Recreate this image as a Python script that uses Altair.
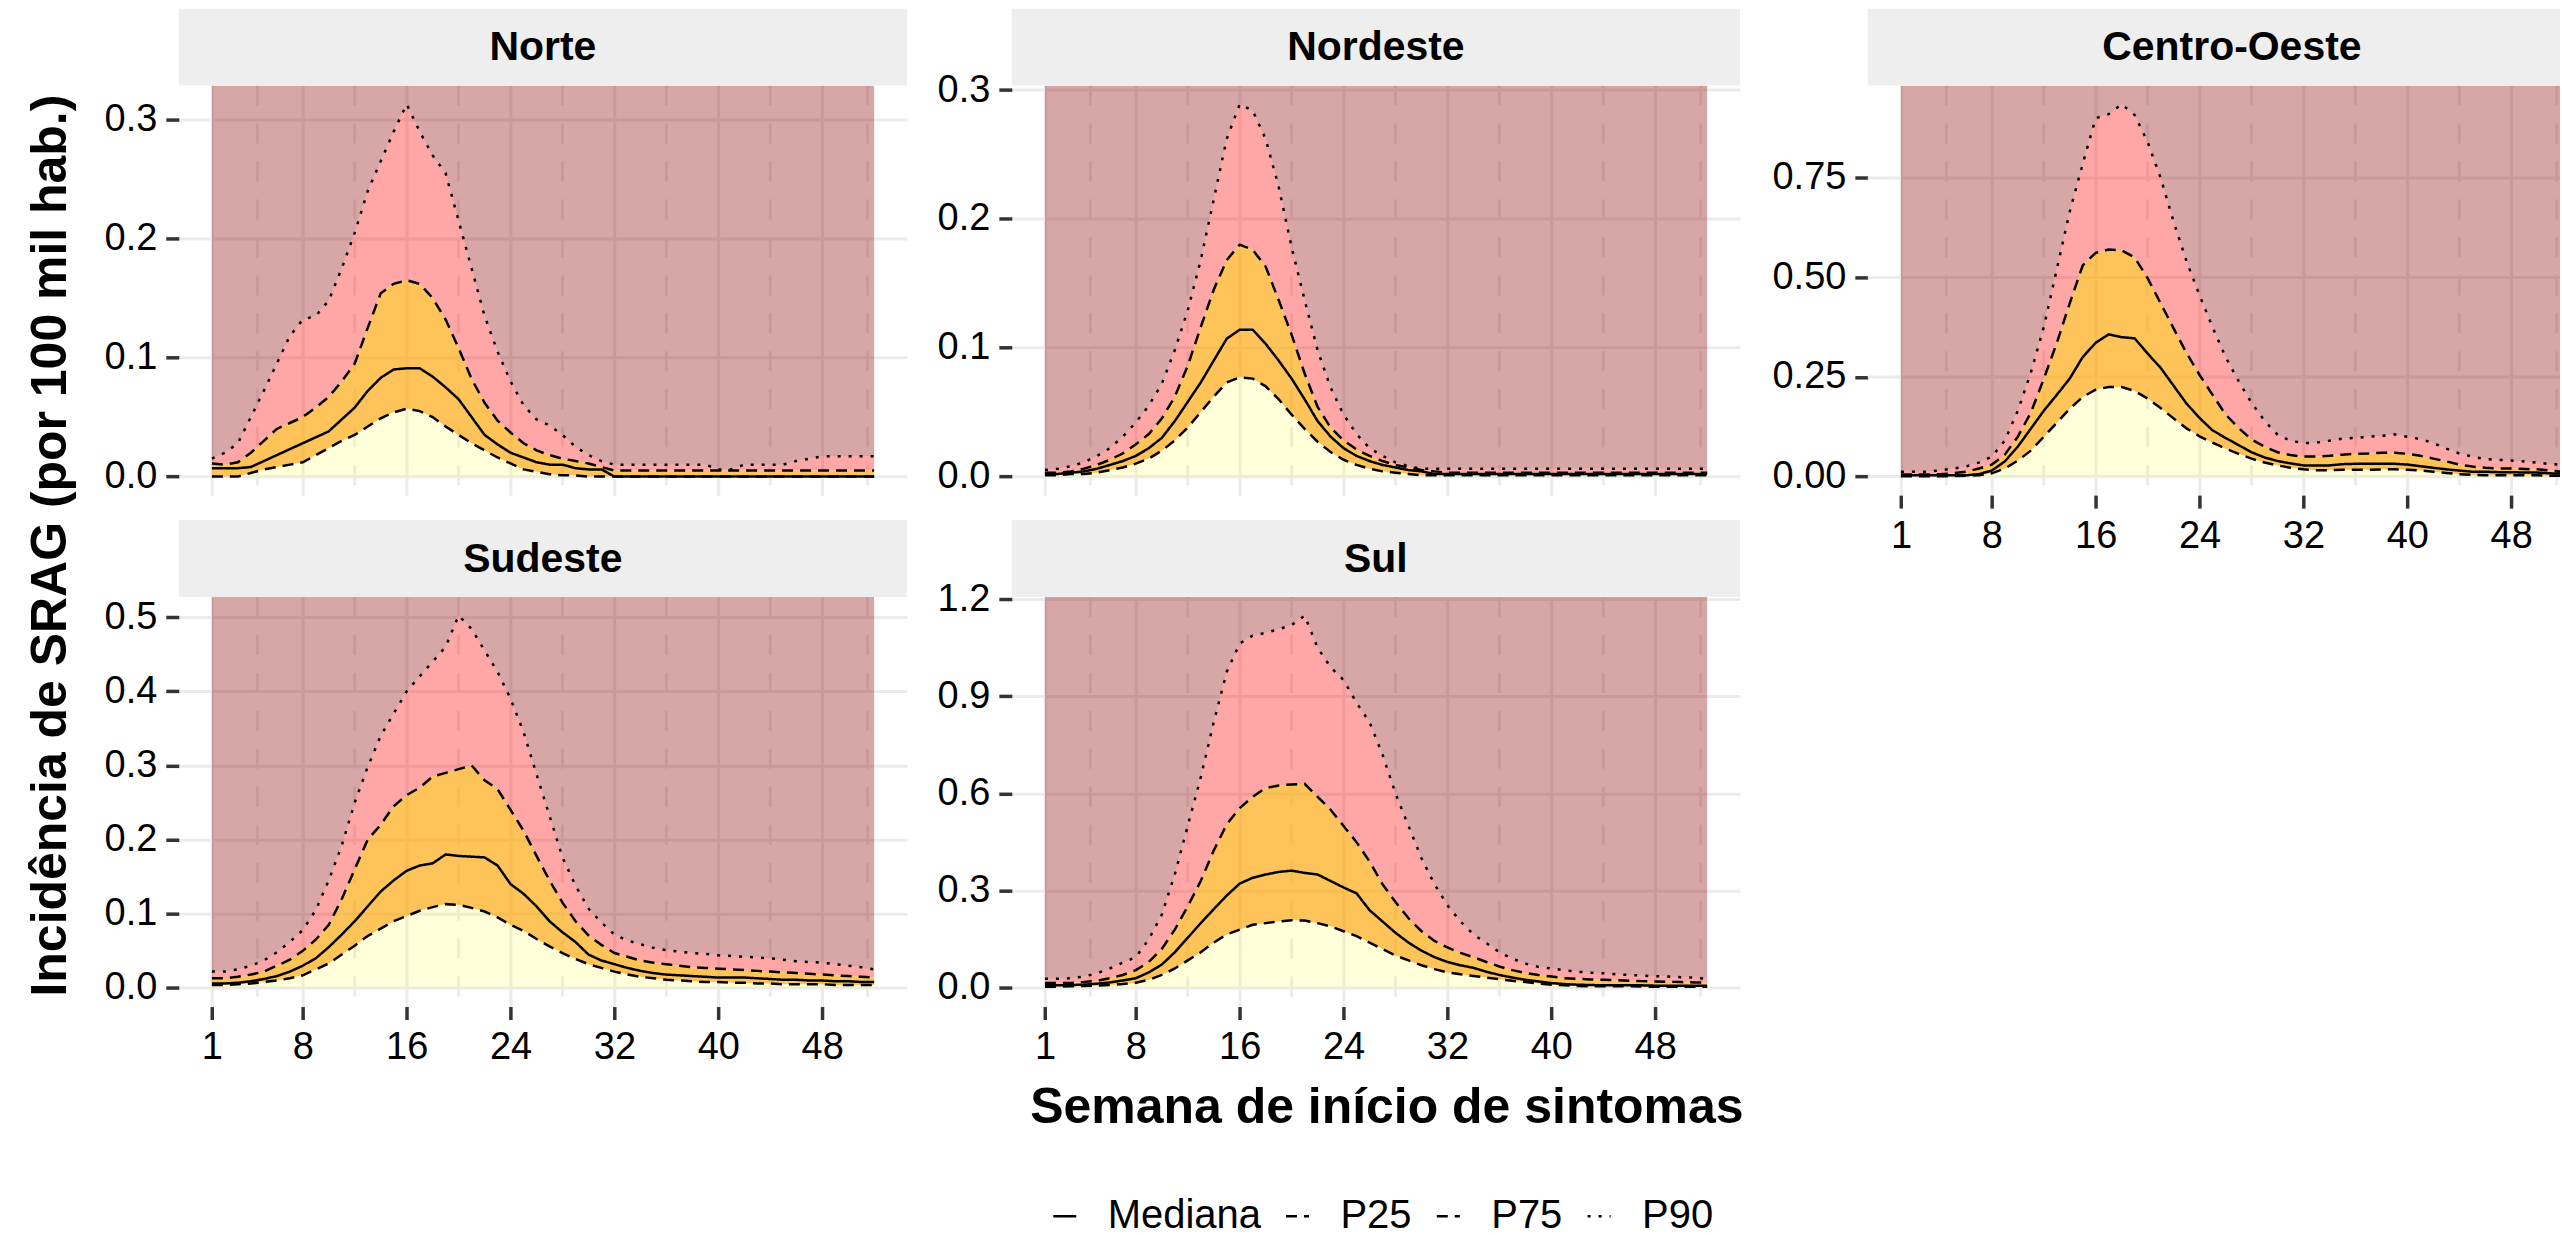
import altair as alt
import pandas as pd

FONT = "Liberation Sans"

WEEKS = list(range(1, 53))
SERIES = ["Mediana", "P25", "P75", "P90"]
X_TICKS = [1, 8, 16, 24, 32, 40, 48]
X_MINOR = [4.5, 12, 20, 28, 36, 44, 51.5]

# ---------------- Norte ----------------
norte_p25 = [0, 0, 0, 0.003, 0.006, 0.008, 0.010, 0.012, 0.018, 0.024,
             0.030, 0.035, 0.042, 0.049, 0.054, 0.057, 0.055, 0.050, 0.042, 0.035,
             0.028, 0.022, 0.016, 0.011, 0.006, 0.004, 0.002, 0.001, 0.001, 0,
             0, 0, 0, 0, 0, 0, 0, 0, 0, 0,
             0, 0, 0, 0, 0, 0, 0, 0, 0, 0, 0, 0]
norte_med = [0.007, 0.007, 0.007, 0.008, 0.013, 0.018, 0.023, 0.028, 0.033, 0.038,
             0.048, 0.058, 0.072, 0.083, 0.090, 0.091, 0.091, 0.084, 0.075, 0.065,
             0.050, 0.035, 0.027, 0.020, 0.016, 0.012, 0.010, 0.010, 0.007, 0.006,
             0.006, 0, 0, 0, 0, 0, 0, 0, 0, 0,
             0, 0, 0, 0, 0, 0, 0, 0, 0, 0, 0, 0]
norte_p75 = [0.011, 0.010, 0.012, 0.020, 0.030, 0.040, 0.045, 0.050, 0.058, 0.067,
             0.080, 0.095, 0.125, 0.154, 0.162, 0.165, 0.162, 0.150, 0.132, 0.108,
             0.082, 0.062, 0.047, 0.037, 0.028, 0.022, 0.018, 0.015, 0.013, 0.011,
             0.008, 0.005, 0.005, 0.005, 0.005, 0.005, 0.005, 0.005, 0.005, 0.005,
             0.005, 0.005, 0.005, 0.005, 0.005, 0.005, 0.005, 0.005, 0.005, 0.005, 0.005, 0.005]
norte_p90 = [0.015, 0.020, 0.028, 0.050, 0.072, 0.095, 0.118, 0.132, 0.135, 0.148,
             0.175, 0.205, 0.240, 0.265, 0.290, 0.313, 0.290, 0.270, 0.255, 0.215,
             0.175, 0.135, 0.105, 0.080, 0.060, 0.048, 0.043, 0.035, 0.025, 0.018,
             0.013, 0.010, 0.010, 0.010, 0.010, 0.010, 0.010, 0.010, 0.010, 0.006,
             0.006, 0.010, 0.010, 0.010, 0.010, 0.013, 0.015, 0.017, 0.017, 0.017, 0.017, 0.017]

# ---------------- Nordeste ----------------
nordeste_p25 = [0.001, 0.001, 0.002, 0.002, 0.003, 0.005, 0.007, 0.010, 0.014, 0.020,
                0.028, 0.038, 0.050, 0.062, 0.073, 0.077, 0.076, 0.070, 0.060, 0.048,
                0.037, 0.027, 0.019, 0.013, 0.009, 0.006, 0.004, 0.003, 0.002, 0.001,
                0.001, 0.001, 0.001, 0.001, 0.001, 0.001, 0.001, 0.001, 0.001, 0.001,
                0.001, 0.001, 0.001, 0.001, 0.001, 0.001, 0.001, 0.001, 0.001, 0.001, 0.001, 0.001]
nordeste_med = [0.002, 0.002, 0.003, 0.004, 0.006, 0.009, 0.012, 0.016, 0.022, 0.030,
                0.043, 0.058, 0.073, 0.090, 0.107, 0.114, 0.114, 0.103, 0.090, 0.076,
                0.060, 0.043, 0.031, 0.022, 0.016, 0.012, 0.009, 0.007, 0.005, 0.004,
                0.002, 0.002, 0.002, 0.002, 0.002, 0.002, 0.002, 0.002, 0.002, 0.002,
                0.002, 0.002, 0.002, 0.002, 0.002, 0.002, 0.002, 0.002, 0.002, 0.002, 0.002, 0.002]
nordeste_p75 = [0.003, 0.003, 0.004, 0.006, 0.009, 0.013, 0.018, 0.025, 0.033, 0.045,
                0.062, 0.086, 0.116, 0.145, 0.168, 0.180, 0.176, 0.163, 0.137, 0.110,
                0.080, 0.054, 0.038, 0.028, 0.021, 0.016, 0.012, 0.009, 0.007, 0.005,
                0.004, 0.003, 0.003, 0.003, 0.003, 0.003, 0.003, 0.003, 0.003, 0.003,
                0.003, 0.003, 0.003, 0.003, 0.003, 0.003, 0.003, 0.003, 0.003, 0.003, 0.003, 0.003]
nordeste_p90 = [0.005, 0.006, 0.008, 0.011, 0.016, 0.022, 0.031, 0.042, 0.055, 0.072,
                0.098, 0.129, 0.168, 0.215, 0.262, 0.289, 0.284, 0.262, 0.225, 0.178,
                0.137, 0.098, 0.069, 0.048, 0.033, 0.022, 0.016, 0.011, 0.008, 0.006,
                0.006, 0.006, 0.006, 0.006, 0.006, 0.006, 0.006, 0.006, 0.006, 0.006,
                0.006, 0.006, 0.006, 0.006, 0.006, 0.006, 0.006, 0.006, 0.006, 0.006, 0.006, 0.006]

# ---------------- Centro-Oeste ----------------
co_p25 = [0.001, 0.001, 0.001, 0.001, 0.001, 0.002, 0.003, 0.008, 0.020, 0.040,
          0.065, 0.100, 0.135, 0.170, 0.200, 0.218, 0.225, 0.225, 0.215, 0.196,
          0.172, 0.146, 0.121, 0.101, 0.085, 0.070, 0.057, 0.045, 0.035, 0.028,
          0.022, 0.018, 0.016, 0.016, 0.017, 0.017, 0.017, 0.018, 0.018, 0.017,
          0.015, 0.012, 0.009, 0.006, 0.004, 0.003, 0.003, 0.003, 0.003, 0.003, 0.002, 0.002]
co_med = [0.003, 0.003, 0.003, 0.003, 0.003, 0.003, 0.006, 0.015, 0.038, 0.075,
          0.120, 0.165, 0.205, 0.246, 0.300, 0.336, 0.357, 0.350, 0.347, 0.309,
          0.273, 0.228, 0.183, 0.147, 0.116, 0.097, 0.079, 0.061, 0.048, 0.039,
          0.033, 0.028, 0.028, 0.028, 0.031, 0.032, 0.032, 0.032, 0.032, 0.030,
          0.026, 0.022, 0.018, 0.015, 0.012, 0.012, 0.011, 0.011, 0.010, 0.010, 0.008, 0.007]
co_p75 = [0.005, 0.005, 0.005, 0.006, 0.008, 0.012, 0.020, 0.030, 0.055, 0.100,
          0.160, 0.245, 0.335, 0.435, 0.530, 0.562, 0.570, 0.568, 0.550, 0.498,
          0.435, 0.372, 0.310, 0.255, 0.205, 0.156, 0.122, 0.093, 0.075, 0.061,
          0.054, 0.050, 0.050, 0.052, 0.055, 0.057, 0.058, 0.060, 0.060, 0.057,
          0.052, 0.045, 0.038, 0.030, 0.025, 0.022, 0.020, 0.020, 0.019, 0.018, 0.015, 0.012]
co_p90 = [0.012, 0.012, 0.012, 0.015, 0.020, 0.025, 0.035, 0.050, 0.090, 0.165,
          0.260, 0.375, 0.520, 0.665, 0.785, 0.900, 0.910, 0.935, 0.908, 0.840,
          0.750, 0.640, 0.540, 0.455, 0.375, 0.300, 0.240, 0.185, 0.140, 0.105,
          0.090, 0.084, 0.085, 0.090, 0.095, 0.097, 0.100, 0.102, 0.106, 0.100,
          0.094, 0.084, 0.070, 0.058, 0.050, 0.044, 0.042, 0.040, 0.038, 0.035, 0.031, 0.030]

# ---------------- Sudeste ----------------
se_p25 = [0.004, 0.004, 0.005, 0.006, 0.008, 0.010, 0.013, 0.017, 0.025, 0.033,
          0.045, 0.057, 0.070, 0.080, 0.090, 0.097, 0.104, 0.109, 0.113, 0.112,
          0.108, 0.103, 0.095, 0.085, 0.077, 0.066, 0.056, 0.047, 0.039, 0.032,
          0.027, 0.022, 0.018, 0.015, 0.013, 0.011, 0.010, 0.009, 0.008, 0.008,
          0.007, 0.007, 0.006, 0.006, 0.005, 0.005, 0.005, 0.005, 0.004, 0.004, 0.004, 0.004]
se_med = [0.006, 0.006, 0.007, 0.009, 0.012, 0.016, 0.022, 0.030, 0.040, 0.055,
          0.072, 0.090, 0.110, 0.130, 0.145, 0.158, 0.165, 0.168, 0.180, 0.178,
          0.177, 0.176, 0.165, 0.140, 0.127, 0.110, 0.090, 0.075, 0.062, 0.045,
          0.037, 0.032, 0.027, 0.023, 0.020, 0.018, 0.017, 0.016, 0.015, 0.014,
          0.014, 0.014, 0.013, 0.012, 0.011, 0.011, 0.010, 0.010, 0.009, 0.009, 0.008, 0.008]
se_p75 = [0.013, 0.013, 0.015, 0.018, 0.022, 0.030, 0.038, 0.050, 0.065, 0.085,
          0.120, 0.160, 0.200, 0.220, 0.245, 0.260, 0.270, 0.285, 0.290, 0.295,
          0.300, 0.280, 0.268, 0.240, 0.212, 0.178, 0.145, 0.115, 0.090, 0.071,
          0.058, 0.047, 0.042, 0.037, 0.034, 0.032, 0.030, 0.028, 0.027, 0.026,
          0.025, 0.024, 0.023, 0.022, 0.021, 0.020, 0.019, 0.018, 0.017, 0.016, 0.015, 0.014]
se_p90 = [0.022, 0.022, 0.025, 0.030, 0.037, 0.048, 0.062, 0.078, 0.105, 0.145,
          0.192, 0.250, 0.298, 0.340, 0.370, 0.400, 0.420, 0.440, 0.460, 0.502,
          0.484, 0.455, 0.426, 0.390, 0.345, 0.288, 0.232, 0.176, 0.138, 0.107,
          0.088, 0.072, 0.064, 0.059, 0.054, 0.051, 0.049, 0.047, 0.046, 0.044,
          0.043, 0.042, 0.041, 0.040, 0.038, 0.036, 0.035, 0.034, 0.032, 0.030, 0.028, 0.025]

# ---------------- Sul ----------------
sul_p25 = [0.004, 0.004, 0.005, 0.006, 0.007, 0.009, 0.012, 0.016, 0.025, 0.040,
           0.060, 0.085, 0.110, 0.140, 0.165, 0.180, 0.195, 0.200, 0.205, 0.209,
           0.208, 0.200, 0.190, 0.175, 0.160, 0.140, 0.120, 0.100, 0.085, 0.070,
           0.058, 0.048, 0.042, 0.037, 0.032, 0.027, 0.022, 0.018, 0.014, 0.010,
           0.008, 0.006, 0.005, 0.005, 0.005, 0.005, 0.004, 0.004, 0.004, 0.004, 0.004, 0.004]
sul_med = [0.008, 0.008, 0.009, 0.010, 0.013, 0.017, 0.023, 0.030, 0.048, 0.072,
           0.110, 0.155, 0.200, 0.243, 0.285, 0.322, 0.340, 0.350, 0.358, 0.362,
           0.355, 0.350, 0.330, 0.310, 0.292, 0.240, 0.205, 0.170, 0.140, 0.115,
           0.095, 0.080, 0.070, 0.062, 0.050, 0.040, 0.032, 0.025, 0.020, 0.015,
           0.012, 0.010, 0.009, 0.008, 0.008, 0.008, 0.008, 0.007, 0.007, 0.007, 0.007, 0.007]
sul_p75 = [0.015, 0.015, 0.015, 0.018, 0.022, 0.030, 0.040, 0.055, 0.080, 0.120,
           0.180, 0.252, 0.330, 0.424, 0.505, 0.555, 0.590, 0.617, 0.625, 0.628,
           0.630, 0.590, 0.550, 0.500, 0.450, 0.390, 0.320, 0.265, 0.215, 0.175,
           0.145, 0.125, 0.108, 0.095, 0.080, 0.066, 0.055, 0.046, 0.040, 0.035,
           0.030, 0.028, 0.026, 0.025, 0.024, 0.022, 0.021, 0.020, 0.019, 0.018, 0.017, 0.016]
sul_p90 = [0.028, 0.028, 0.030, 0.035, 0.045, 0.060, 0.078, 0.095, 0.150, 0.226,
           0.350, 0.500, 0.650, 0.820, 0.975, 1.063, 1.087, 1.096, 1.107, 1.120,
           1.149, 1.050, 0.990, 0.950, 0.880, 0.820, 0.720, 0.600, 0.500, 0.400,
           0.320, 0.255, 0.205, 0.165, 0.138, 0.110, 0.090, 0.075, 0.065, 0.060,
           0.055, 0.050, 0.047, 0.045, 0.042, 0.040, 0.038, 0.036, 0.035, 0.033, 0.032, 0.028]

# y-axis breaks per region
norte_yticks = [0, 0.1, 0.2, 0.3]
nordeste_yticks = [0, 0.1, 0.2, 0.3]
co_yticks = [0, 0.25, 0.5, 0.75]
se_yticks = [0, 0.1, 0.2, 0.3, 0.4, 0.5]
sul_yticks = [0, 0.3, 0.6, 0.9, 1.2]

PANEL_W = 729
CUT_W = 693          # visible part of the right-most panel (cut by the page edge)
CUT_SHIFT = 23       # extra gap before the right-most panel
PANEL_H = 410
STRIP_H = 77
PX_PER_WEEK = 13.0
GRID = "#EBEBEB"
FS_TICK = 38

legend = alt.Legend(
    title=None, orient="none", direction="horizontal",
    legendX=867, legendY=1112,
    symbolType="stroke", symbolSize=530, symbolStrokeWidth=2.5,
    symbolStrokeColor="black",
    labelFont=FONT, labelFontSize=40, labelColor="black",
    labelOffset=23, columnPadding=16,
)


def panel(name, p25, med, p75, p90, yticks, yfmt, show_x, shift=0, width=PANEL_W,
          ytitle=False, xtitle=False):
    df = pd.DataFrame({"semana": WEEKS, "P25": p25, "Mediana": med,
                       "P75": p75, "P90": p90})
    top = max(p90)
    ytop = 1.05 * top
    total_w = shift + width
    xmax = -1.55 + width / PX_PER_WEEK
    xscale = alt.Scale(domain=[-1.55, xmax], range=[shift, total_w],
                       nice=False, zero=False)
    yscale = alt.Scale(domain=[-0.05 * top, ytop], nice=False, zero=False)

    xkw = dict(values=X_TICKS, grid=True, domain=False, labels=show_x,
               ticks=show_x, labelFlush=False, title=None)
    if xtitle:
        xkw.update(title="Semana de início de sintomas", titleX=1209, titleY=101,
                   titleBaseline="middle", titleAlign="center")
    xaxis = alt.Axis(**xkw)

    ykw = dict(values=yticks, format=yfmt, grid=(shift == 0), domain=False,
               title=None)
    if shift:
        ykw.update(offset=-shift)
    if ytitle:
        ykw.update(title="Incidência de SRAG (por 100 mil hab.)", titleX=-128,
                   titleY=460, titleBaseline="middle", titleAlign="center")
    yaxis = alt.Axis(**ykw)

    X = alt.X("semana:Q", scale=xscale, axis=xaxis)
    base = alt.Chart(df)

    layers = []
    if shift:
        hgrid = alt.Chart(pd.DataFrame({"v": yticks})).mark_rule(
            color=GRID, strokeWidth=3
        ).encode(y=alt.Y("v:Q", scale=yscale, axis=yaxis),
                 x=alt.value(shift), x2=alt.value(total_w))
        layers.append(hgrid)

    minor = alt.Chart(pd.DataFrame({"semana": X_MINOR})).mark_rule(
        color=GRID, strokeWidth=3, strokeDash=[20, 18]
    ).encode(x=X)
    layers.append(minor)

    dark = base.mark_area(color="darkred", opacity=0.35, clip=True).encode(
        x=X, y=alt.Y("P90:Q", scale=yscale, axis=yaxis), y2=alt.datum(ytop))
    pink = base.mark_area(color="red", opacity=0.35, clip=True).encode(
        x=X, y=alt.Y("P75:Q", scale=yscale, axis=yaxis), y2=alt.Y2("P90:Q"))
    orange = base.mark_area(color="orange", opacity=0.65, clip=True).encode(
        x=X, y=alt.Y("P25:Q", scale=yscale, axis=yaxis), y2=alt.Y2("P75:Q"))
    yellow = base.mark_area(color="yellow", opacity=0.15, clip=True).encode(
        x=X, y=alt.Y("P25:Q", scale=yscale, axis=yaxis), y2=alt.datum(0))
    lines = base.transform_fold(SERIES, as_=["serie", "valor"]).mark_line(
        color="black", strokeWidth=2.5, clip=True
    ).encode(
        x=X,
        y=alt.Y("valor:Q", scale=yscale, axis=yaxis),
        strokeDash=alt.StrokeDash(
            "serie:N",
            scale=alt.Scale(domain=SERIES,
                            range=[[1, 0], [11, 7], [11, 7], [3, 8]]),
            legend=legend),
    )
    layers += [dark, pink, orange, yellow, lines]

    # facet strip drawn above the panel
    sdf = pd.DataFrame({"regiao": [name]})
    strip_bg = alt.Chart(sdf).mark_rect(color="#EEEEEE", clip=False).encode(
        x=alt.value(shift), x2=alt.value(total_w),
        y=alt.value(-STRIP_H), y2=alt.value(0))
    strip_tx = alt.Chart(sdf).mark_text(
        font=FONT, fontSize=41, fontWeight="bold", color="black",
        align="center", baseline="middle", clip=False
    ).encode(text="regiao:N", x=alt.value(shift + PANEL_W / 2),
             y=alt.value(-STRIP_H / 2 + 1))
    layers += [strip_bg, strip_tx]

    return alt.layer(*layers).properties(width=total_w, height=PANEL_H)


p_norte = panel("Norte", norte_p25, norte_med, norte_p75, norte_p90,
                norte_yticks, ".1f", False, ytitle=True)
p_nordeste = panel("Nordeste", nordeste_p25, nordeste_med, nordeste_p75,
                   nordeste_p90, nordeste_yticks, ".1f", False)
p_co = panel("Centro-Oeste", co_p25, co_med, co_p75, co_p90, co_yticks,
             ".2f", True, shift=CUT_SHIFT, width=CUT_W)
p_se = panel("Sudeste", se_p25, se_med, se_p75, se_p90, se_yticks, ".1f",
             True, xtitle=True)
p_sul = panel("Sul", sul_p25, sul_med, sul_p75, sul_p90, sul_yticks, ".1f", True)

chart = alt.concat(
    p_norte, p_nordeste, p_co, p_se, p_sul,
    columns=3, spacing={"column": 105, "row": 102}, bounds="flush", align="each",
).resolve_scale(
    x="independent", y="independent", strokeDash="shared"
).properties(
    padding={"left": 25, "top": 8, "right": 0, "bottom": 0},
    background="white",
).configure_view(
    strokeWidth=0
).configure_axis(
    labelFont=FONT, labelFontSize=FS_TICK, labelColor="black",
    tickColor="#333333", tickWidth=3.5, tickSize=13, labelPadding=9,
    gridColor=GRID, gridWidth=3,
    titleFont=FONT, titleFontSize=50, titleFontWeight="bold", titleColor="black",
)

chart.save("out.html", embed_options={"renderer": "svg", "actions": False})
